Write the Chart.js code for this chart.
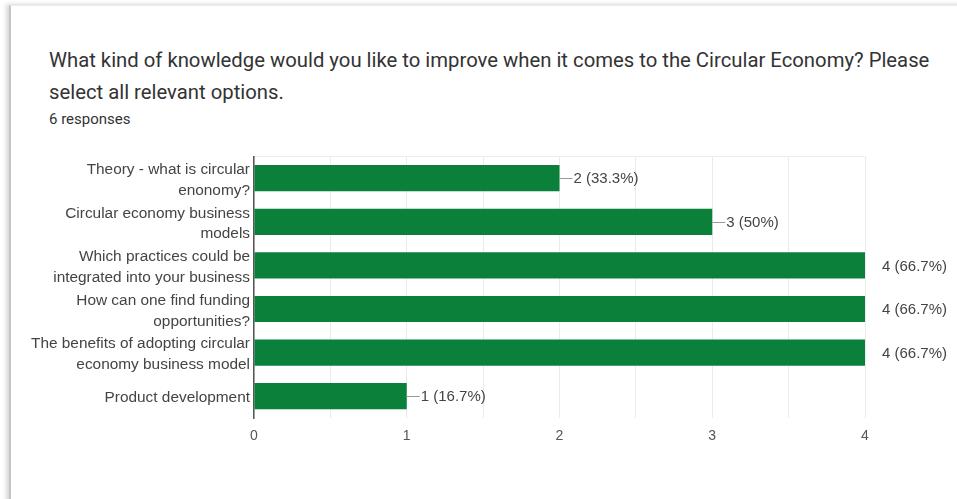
<!DOCTYPE html>
<html>
<head>
<meta charset="utf-8">
<script src="https://cdn.jsdelivr.net/npm/chart.js@4"></script>
<style>
  html, body { margin: 0; padding: 0; background: #fff; }
  body { width: 957px; height: 499px; position: relative; overflow: hidden; }
  .card {
    position: absolute; left: 9px; top: 5px; width: 960px; height: 500px;
    background: #fff;
    border-left: 2px solid #c4c4c4;
    border-top: 1px solid #ececec;
    box-shadow: -3px -1px 4px rgba(0,0,0,0.15);
  }
  .title {
    position: absolute; left: 49px; top: 44px; width: 900px;
    font-family: Roboto, sans-serif; font-size: 20.3px; line-height: 32px;
    color: #333;
  }
  .sub {
    position: absolute; left: 49px; top: 110px;
    font-family: Roboto, sans-serif; font-size: 15px; line-height: 18px;
    color: #333;
  }
  #wrap { position: absolute; left: 0; top: 142px; width: 957px; height: 308px; }
</style>
</head>
<body>
<div class="card"></div>
<div class="title">What kind of knowledge would you like to improve when it comes to the Circular Economy? Please select all relevant options.</div>
<div class="sub">6 responses</div>
<div id="wrap"><canvas id="myChart"></canvas></div>
<script>
const responses = 6
const labels = [
    ['Theory - what is circular', 'enonomy?'],
    ['Circular economy business', 'models'],
    ['Which practices could be', 'integrated into your business'],
    ['How can one find funding', 'opportunities?'],
    ['The benefits of adopting circular', 'economy business model'],
    'Product development'
]
const counts = [2, 3, 4, 4, 4, 1]
const xTicks = [0, 1, 2, 3, 4]

const pct = (v) => Math.round(v / responses * 1000) / 10

// value text next to each bar, with a little leader line when it fits inside
const valueLabels = {
    id: 'valueLabels',
    afterDatasetsDraw(chart) {
        const ctx = chart.ctx
        const area = chart.chartArea
        const meta = chart.getDatasetMeta(0)
        const max = chart.scales.x.max
        ctx.save()
        ctx.font = '15px "Liberation Sans", Arial, sans-serif'
        ctx.fillStyle = '#444'
        ctx.textBaseline = 'middle'
        meta.data.forEach((bar, i) => {
            const v = counts[i]
            const text = v + ' (' + pct(v) + '%)'
            if (v < max) {
                ctx.strokeStyle = '#999'
                ctx.lineWidth = 1
                ctx.beginPath()
                ctx.moveTo(bar.x, Math.round(bar.y) + 0.5)
                ctx.lineTo(bar.x + 13, Math.round(bar.y) + 0.5)
                ctx.stroke()
                ctx.fillText(text, bar.x + 14, bar.y + 1)
            } else {
                ctx.fillText(text, area.right + 17, bar.y + 1)
            }
        })
        ctx.restore()
    }
}

const ctx = document.getElementById('myChart')
let chart = new Chart(ctx, {
    type: 'bar',
    data: {
        labels: labels,
        datasets: [{
            data: counts,
            backgroundColor: '#0b803b',
            borderWidth: 0,
            barPercentage: 0.6,
            categoryPercentage: 1
        }]
    },
    options: {
        indexAxis: 'y',
        responsive: true,
        maintainAspectRatio: false,
        animation: false,
        layout: { autoPadding: false, padding: { top: 5, right: 92, left: 0, bottom: 0 } },
        plugins: {
            legend: { display: false },
            tooltip: { enabled: false }
        },
        scales: {
            x: {
                min: 0,
                max: 4,
                ticks: {
                    stepSize: 0.5,
                    padding: 10,
                    color: '#555',
                    font: { family: '"Liberation Sans", Arial, sans-serif', size: 14 },
                    callback: (v) => xTicks.includes(v) ? v : ''
                },
                grid: { color: '#ebebeb', drawTicks: false },
                border: { display: false },
                afterFit: (s) => { s.height = 32 }
            },
            y: {
                ticks: {
                    autoSkip: false,
                    padding: 4,
                    labelOffset: 2,
                    color: '#444',
                    font: { family: '"Liberation Sans", Arial, sans-serif', size: 15.4, lineHeight: 1.35 }
                },
                grid: {
                    offset: true,
                    drawTicks: false,
                    color: (c) => (c.index === 0 || c.index === labels.length) ? '#ebebeb' : 'rgba(0,0,0,0)'
                },
                border: { color: '#555', width: 1.5 },
                afterFit: (s) => { s.width = 254 }
            }
        }
    },
    plugins: [valueLabels]
})
</script>
</body>
</html>
